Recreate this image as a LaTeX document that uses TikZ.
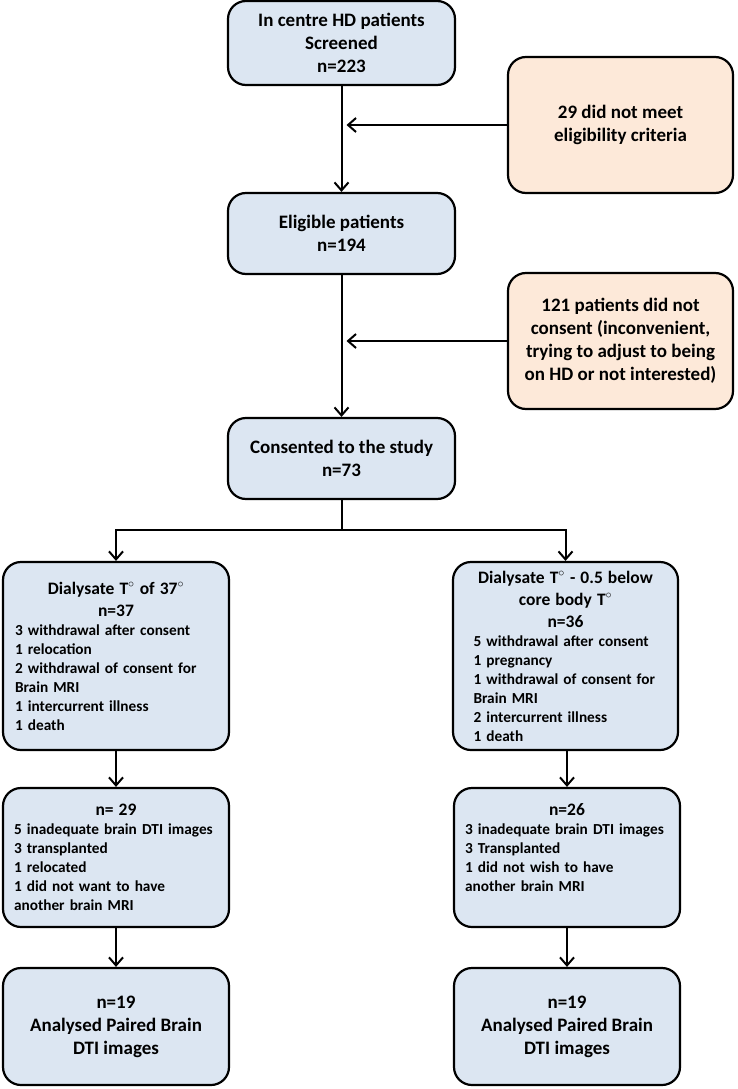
\documentclass[tikz,border=0pt]{standalone}
\usepackage{fontspec}
\setmainfont{Carlito}
\usetikzlibrary{arrows.meta}
\hyphenpenalty=10000
\definecolor{boxblue}{RGB}{220,230,242}
\definecolor{boxorange}{RGB}{253,233,217}
\tikzstyle{block} = [draw,rectangle,rounded corners=18pt,line width=2.2pt,fill=boxblue,
                     align=center,inner sep=0pt,font=\bfseries\fontsize{19}{23}\selectfont]
\tikzstyle{exclude} = [block,fill=boxorange]
\tikzstyle{listblock} = [block,align=left,font=\bfseries\fontsize{15.3}{19}\selectfont]
\tikzstyle{connector} = [->,line width=2pt]
\tikzstyle{line} = [line width=2pt]
\newcommand{\dg}{$^{\circ}$}
\newcommand{\head}[1]{{\centering\fontsize{17.5}{22}\selectfont #1\par}}

\begin{document}
\begin{tikzpicture}[x=1pt, y=-1pt, >={Straight Barb[length=8pt,width=14pt]}]
    \useasboundingbox (0,0) rectangle (737,1089);
    % screening and eligibility
    \node[block, minimum width=227pt, minimum height=84pt] (screen) at (341.5,43)
      {In centre HD patients\\Screened\\n=223};
    \node[exclude, minimum width=225pt, minimum height=136pt] (excl1) at (620.5,125)
      {29 did not meet\\eligibility criteria};
    \node[block, minimum width=227pt, minimum height=81pt] (elig) at (341.5,233.5)
      {Eligible patients\\n=194};
    \node[exclude, minimum width=225pt, minimum height=136pt] (excl2) at (620.5,341)
      {121 patients did not\\consent (inconvenient,\\trying to adjust to being\\on HD or not interested)};
    \node[block, minimum width=227pt, minimum height=81pt] (cons) at (341.5,458.5)
      {Consented to the study\\n=73};

    % the two arms
    \node[listblock, minimum width=226pt, minimum height=188pt, text width=202pt] (arm1) at (116,656)
      {\head{Dialysate T\dg{} of 37\dg\\n=37}
       3 withdrawal after consent\\1 relocation\\2 withdrawal of consent for\\Brain MRI\\
       1 intercurrent illness\\1 death};
    \node[listblock, minimum width=225pt, minimum height=188pt, text width=184pt] (arm2) at (565.5,656)
      {\head{Dialysate T\dg{} - 0.5 below\\core body T\dg\\n=36}
       5 withdrawal after consent\\1 pregnancy\\1 withdrawal of consent for\\Brain MRI\\
       2 intercurrent illness\\1 death};

    \node[listblock, minimum width=226pt, minimum height=139pt, text width=204pt] (sec1) at (116,857.5)
      {\head{n= 29}
       5 inadequate brain DTI images\\3 transplanted\\1 relocated\\1 did not want to have\\
       another brain MRI};
    \node[listblock, minimum width=226pt, minimum height=139pt, text width=204pt, text depth=95pt] (sec2) at (567,857.5)
      {\head{n=26}
       3 inadequate brain DTI images\\3 Transplanted\\1 did not wish to have\\another brain MRI};

    \node[block, minimum width=226pt, minimum height=117pt] (fin1) at (116,1026.5)
      {n=19\\Analysed Paired Brain\\DTI images};
    \node[block, minimum width=226pt, minimum height=117pt] (fin2) at (567,1026.5)
      {n=19\\Analysed Paired Brain\\DTI images};

    % junctions
    \coordinate (j1) at (341.5,125);
    \coordinate (j2) at (341.5,341);
    \coordinate (split) at (341.5,530);

    % now link the nodes
    \draw [connector] (screen) -- (elig);
    \draw [connector, shorten >=5pt] (excl1) -- (j1);
    \draw [connector] (elig) -- (cons);
    \draw [connector, shorten >=5pt] (excl2) -- (j2);
    \draw [line] (cons) -- (split);
    \draw [connector] (split) -| (arm1);
    \draw [connector] (split) -| (arm2);
    \draw [connector] (arm1) -- (sec1);
    \draw [connector] (arm2.south -| sec2) -- (sec2);
    \draw [connector] (sec1) -- (fin1);
    \draw [connector] (sec2) -- (fin2);
\end{tikzpicture}
\end{document}
